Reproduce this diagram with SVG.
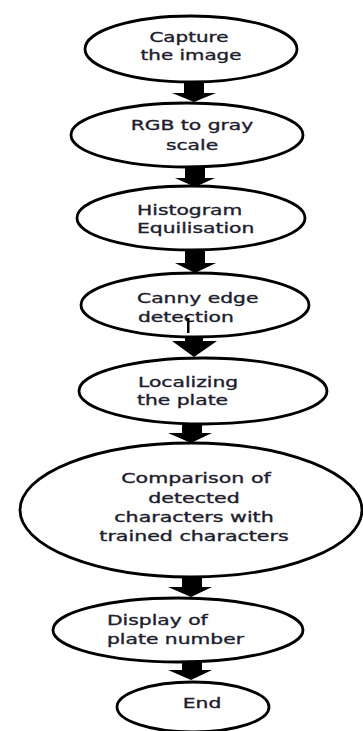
<svg xmlns="http://www.w3.org/2000/svg" width="363" height="731" viewBox="0 0 363 731">
<style>
.n{fill:#fff;stroke:#000;stroke-width:2.8}
.t{font-family:"DejaVu Sans",Verdana,sans-serif;font-size:14px;fill:#1e1e2e;stroke:#1e1e2e;stroke-width:0.35}
.a{fill:#000}
</style>
<rect width="363" height="731" fill="#fff"/>
<g id="n1"><ellipse class="n" cx="191" cy="49" rx="106" ry="33"/>
<text class="t" text-anchor="middle" transform="translate(189,42) scale(1.42,1)">Capture</text>
<text class="t" text-anchor="middle" transform="translate(191,60) scale(1.42,1)">the image</text></g>
<g id="n2"><ellipse class="n" cx="187" cy="135" rx="116" ry="32"/>
<text class="t" text-anchor="middle" transform="translate(192,130) scale(1.45,1)">RGB to gray</text>
<text class="t" text-anchor="middle" transform="translate(192,150) scale(1.45,1)">scale</text></g>
<g id="n3"><ellipse class="n" cx="191" cy="218" rx="114" ry="32"/>
<text class="t" transform="translate(137,215) scale(1.45,1)">Histogram</text>
<text class="t" transform="translate(137,233) scale(1.45,1)">Equilisation</text></g>
<g id="n4"><ellipse class="n" cx="195" cy="305" rx="114" ry="32"/>
<text class="t" transform="translate(137,303) scale(1.45,1)">Canny edge</text>
<text class="t" transform="translate(138,322) scale(1.45,1)">detection</text>
<rect x="187" y="318" width="2.5" height="15" fill="#000"/></g>
<g id="n5"><ellipse class="n" cx="203" cy="391" rx="124" ry="33"/>
<text class="t" transform="translate(138,387) scale(1.45,1)">Localizing</text>
<text class="t" transform="translate(137,405) scale(1.45,1)">the plate</text></g>
<g id="n6"><ellipse class="n" cx="191" cy="510" rx="171" ry="67"/>
<text class="t" text-anchor="middle" transform="translate(196,483) scale(1.47,1)">Comparison of</text>
<text class="t" text-anchor="middle" transform="translate(194,503) scale(1.47,1)">detected</text>
<text class="t" text-anchor="middle" transform="translate(194,522) scale(1.47,1)">characters with</text>
<text class="t" text-anchor="middle" transform="translate(194,541) scale(1.47,1)">trained characters</text></g>
<g id="n7"><ellipse class="n" cx="178" cy="630" rx="125" ry="32"/>
<text class="t" transform="translate(107,625) scale(1.45,1)">Display of</text>
<text class="t" transform="translate(107,644) scale(1.45,1)">plate number</text></g>
<g id="n8"><ellipse class="n" cx="193" cy="707" rx="76" ry="25"/>
<text class="t" text-anchor="middle" transform="translate(202,708) scale(1.45,1)">End</text></g>
<g id="connectors" class="a">
<path d="M184,81H204V93H216L194,102L172,93H184Z"/>
<path d="M185,166H205V178H215L195,187L175,178H185Z"/>
<path d="M185,249H205V263H216L195,273L175,263H185Z"/>
<path d="M185,336H203V341H217L194,357L172,341H185Z"/>
<path d="M182,423H202V433H212L191,443L168,433H182Z"/>
<path d="M182,577H202V587H212L191,597L168,587H182Z"/>
<path d="M182,661H202V670H212L191,680L168,670H182Z"/>
</g>
</svg>
